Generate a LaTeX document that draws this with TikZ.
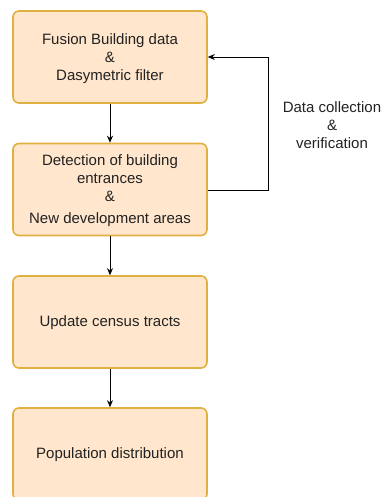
\documentclass[tikz,border=0pt]{standalone}
\usepackage{fontspec}
\setmainfont{Liberation Sans}
\usetikzlibrary{arrows.meta}
\definecolor{boxfill}{HTML}{FFE6CC}
\definecolor{boxdraw}{HTML}{E0B040}
\definecolor{txt}{HTML}{222222}
\begin{document}
\begin{tikzpicture}[x=1pt,y=-1pt,
  stepbox/.style={draw=boxdraw,fill=boxfill,line width=1.6pt,rounded corners=6pt,
    minimum width=194pt,minimum height=92pt,inner sep=0pt},
  txtnode/.style={text=txt,font=\fontsize{15}{18}\selectfont,align=center,inner sep=0pt},
  arr/.style={-{Stealth[length=7pt,width=6pt]},line width=0.8pt}]
\useasboundingbox (0,0) rectangle (382,497);
\node[stepbox] (b1) at (110,57) {};
\node[stepbox] (b2) at (110,189.5) {};
\node[stepbox] (b3) at (110,322) {};
\node[stepbox] (b4) at (110,454) {};
\node[txtnode] (t1) at (110,59) {Fusion Building data\\\&\\Dasymetric filter};
\node[txtnode] (t2) at (110,191) {Detection of building\\entrances\\\&\\[4pt]New development areas};
\node[txtnode] (t3) at (110,323) {Update census tracts};
\node[txtnode] (t4) at (110,455) {Population distribution};
\node[txtnode] (fb) at (332,125) {Data collection\\\&\\verification};
\draw[arr] (b1) -- (b2);
\draw[arr] (b2) -- (b3);
\draw[arr] (b3) -- (b4);
\coordinate (c1) at (268,190);
\coordinate (c2) at (268,57);
\draw[arr] (b2.east |- c1) -- (c1) -- (c2) -- (b1.east);
\end{tikzpicture}
\end{document}
